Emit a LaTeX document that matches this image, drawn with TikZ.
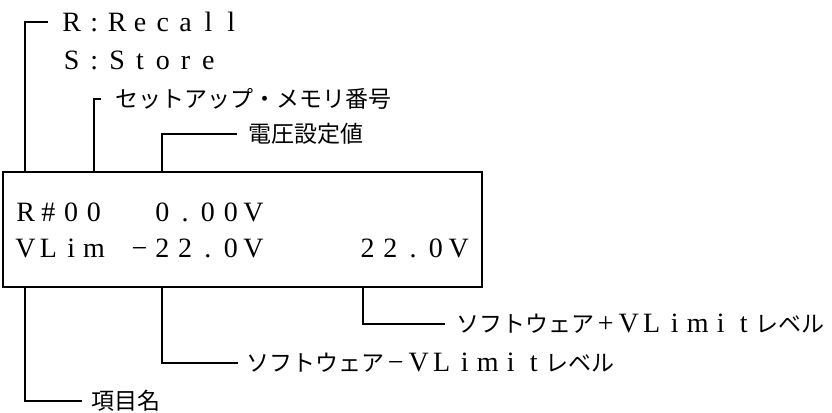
\documentclass[tikz,border=0pt]{standalone}
\usepackage{fontspec}
\setmainfont{Liberation Serif}
\newfontfamily\jpfont{Noto Sans CJK JP}
\usepackage{tikz}
\usetikzlibrary{positioning,calc}

% one character per fixed-width cell, as on the display
\newcommand\cells[2][22.8pt]{\foreach \ch in {#2}{\makebox[#1][c]{\ch}}}
\newcommand\jp[1]{{\jpfont\fontsize{23}{25}\selectfont #1}}

\tikzset{
  lbl/.style={anchor=west, inner sep=0pt, font=\fontsize{28}{30}\selectfont},
  jplbl/.style={anchor=west, inner sep=0pt, font=\jpfont\fontsize{23}{25}\selectfont},
  wire/.style={line width=1.1pt},
  frame/.style={draw, line width=2.2pt, minimum width=479pt, minimum height=115pt, inner sep=0pt}
}

\begin{document}
\begin{tikzpicture}[x=1pt, y=-1pt]
	\useasboundingbox (0,0) rectangle (832,412);

	% display
	\node[frame] (box) at (242.5,229.5) {};
	\node[lbl] (row1) at (14,212) {\cells{R,\#,0,0,{},{},0,.,0,0,V}};
	\node[lbl] (row2) at (14,248) {\cells{V,L,i,m,{},−,2,2,.,0,V,{},{},{},{},2,2,.,0,V}};

	% labels above
	\node[lbl] (recall) at (60,22) {\cells{R,:,R,e,c,a,l,l}};
	\node[lbl] (store) at (60,60) {\cells{S,:,S,t,o,r,e}};
	\node[jplbl] (setup) at (115,99) {セットアップ・メモリ番号};
	\node[jplbl] (volt) at (248,134) {電圧設定値};

	% labels below
	\node[lbl] (plus) at (456,324) {\jp{ソフトウェア}\cells[23pt]{+,V,L,i,m,i,t}\jp{レベル}};
	\node[lbl] (minus) at (246,363) {\jp{ソフトウェア}\cells[23pt]{−,V,L,i,m,i,t}\jp{レベル}};
	\node[jplbl] (item) at (91,401) {項目名};

	\coordinate (itemx) at (25,0);
	\coordinate (setupx) at (94,0);
	\coordinate (voltx) at (162,0);
	\coordinate (plusx) at (363,0);

	\draw[wire] ([xshift=-12pt]recall.west) -| (box.north -| itemx);
	\draw[wire] ([xshift=-14pt]setup.west) -| (box.north -| setupx);
	\draw[wire] ([xshift=-11pt]volt.west) -| (box.north -| voltx);
	\draw[wire] ([xshift=-9pt]item.west) -| (box.south -| itemx);
	\draw[wire] ([xshift=-8pt]minus.west) -| (box.south -| voltx);
	\draw[wire] ([xshift=-11pt]plus.west) -| (box.south -| plusx);
\end{tikzpicture}
\end{document}
